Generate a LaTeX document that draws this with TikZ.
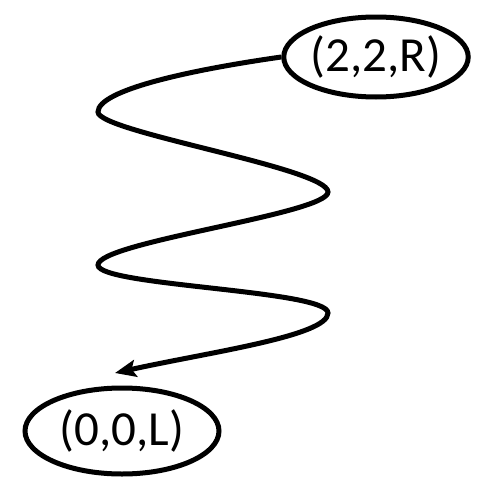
\documentclass[tikz,border=0pt]{standalone}
\usepackage{fontspec}
\setmainfont{Carlito}
\usetikzlibrary{shapes.geometric,arrows.meta}
\begin{document}
\begin{tikzpicture}[x=1pt,y=-1pt,
  state/.style={ellipse,draw,line width=5pt,inner sep=0pt,minimum width=184pt,minimum height=80pt,font=\fontsize{49}{59}\selectfont},
  snake/.style={line width=5pt,-{Stealth[length=21pt,width=17pt,inset=4pt]}}]
\useasboundingbox (0,0) rectangle (482,482);
\node[state] (a) at (376,57) {(2,2,R)};
\node[state,minimum width=194pt,minimum height=86pt] (b) at (122,431) {(0,0,L)};
\coordinate (e) at (115,373);
\draw[snake] (a.west) .. controls (190,70) and (98,90) .. (98,112)
  .. controls (98,132) and (328,168) .. (328,192)
  .. controls (328,214) and (98,242) .. (98,265)
  .. controls (98,286) and (328,290) .. (328,313)
  .. controls (328,336) and (210,352) .. (e);
\end{tikzpicture}
\end{document}
